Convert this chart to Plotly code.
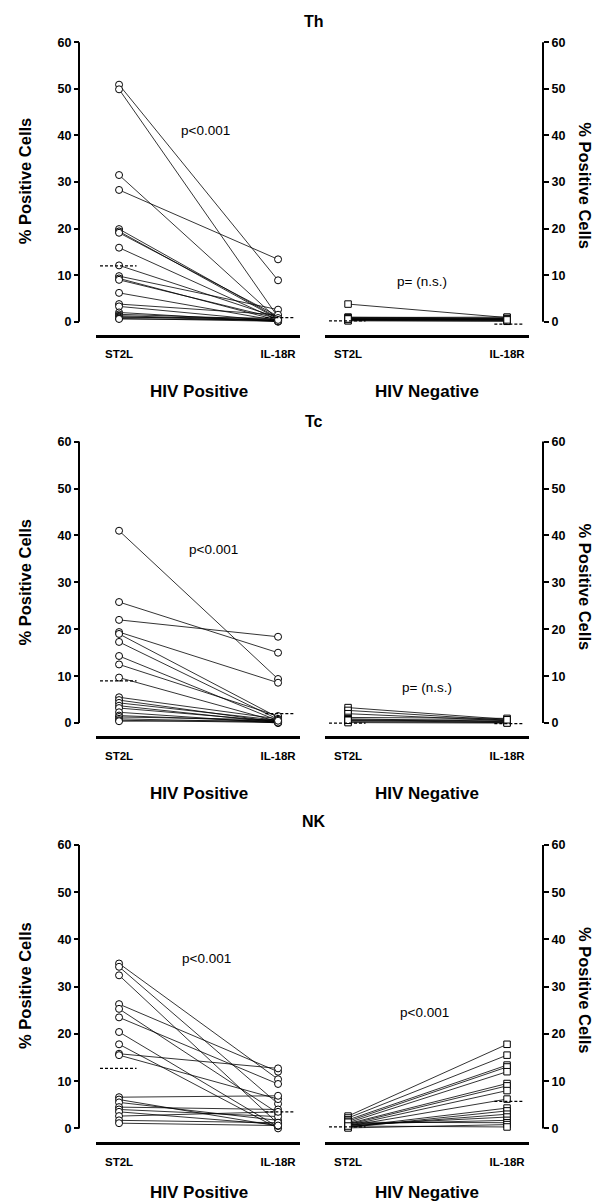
import plotly.graph_objects as go

# ---------------- data ----------------
categories = ["ST2L", "IL-18R"]
panel_titles = ["Th", "Tc", "NK"]
group_titles = ["HIV Positive", "HIV Negative"]
p_labels = [["p<0.001", "p= (n.s.)"], ["p<0.001", "p= (n.s.)"], ["p<0.001", "p<0.001"]]
y_tick_vals = [0, 10, 20, 30, 40, 50, 60]
y_axis_title = "% Positive Cells"

# Th
th_pos_st2l = [50.9, 49.9, 31.5, 28.3, 19.9, 19.4, 19.1, 15.9, 12.1, 9.8, 9.3, 9.0, 6.2, 3.8, 3.3, 2.0, 1.6, 1.3, 1.1, 0.9, 0.7, 0.6]
th_pos_il18r = [8.9, 1.0, 0.5, 13.4, 0.8, 0.6, 1.2, 0.4, 0.9, 2.6, 0.3, 0.7, 0.2, 1.5, 0.1, 0.0, 0.5, 0.3, 0.2, 0.8, 0.1, 0.4]
th_neg_st2l = [3.8, 1.0, 0.9, 0.8, 0.7, 0.6, 0.5, 0.4, 0.3, 0.2, 0.5, 0.6]
th_neg_il18r = [0.9, 0.8, 1.0, 0.6, 0.5, 0.7, 0.4, 0.3, 0.2, 0.1, 0.6, 0.4]
th_pos_mean = [12.0, 0.9]
th_neg_mean = [0.2, -0.5]

# Tc
tc_pos_st2l = [41.0, 25.8, 22.0, 19.4, 19.0, 17.3, 14.3, 12.5, 9.7, 5.5, 4.9, 4.3, 3.7, 3.2, 2.3, 1.6, 1.3, 0.9, 0.6, 0.4]
tc_pos_il18r = [9.4, 15.0, 18.4, 8.6, 1.2, 0.8, 0.5, 1.5, 0.3, 0.9, 0.2, 0.6, 0.1, 0.4, 0.0, 0.3, 0.7, 0.2, 0.1, 0.5]
tc_neg_st2l = [3.3, 2.7, 2.0, 1.2, 0.9, 0.7, 0.5, 0.3, 0.1, 0.6]
tc_neg_il18r = [0.8, 0.6, 0.5, 1.0, 0.4, 0.3, 0.2, 0.1, 0.0, 0.7]
tc_pos_mean = [9.0, 2.0]
tc_neg_mean = [0.0, -0.1]

# NK
nk_pos_st2l = [34.9, 34.2, 32.4, 26.3, 25.3, 23.5, 20.4, 17.8, 15.8, 15.5, 6.6, 6.1, 5.5, 4.5, 4.0, 3.5, 2.6, 1.7, 1.1]
nk_pos_il18r = [10.4, 5.2, 1.0, 12.0, 3.2, 9.4, 0.3, 0.0, 12.7, 6.2, 6.9, 0.5, 1.7, 4.0, 2.5, 0.8, 3.5, 1.2, 0.6]
nk_neg_st2l = [2.6, 2.2, 1.8, 1.5, 1.2, 1.0, 0.8, 0.6, 0.5, 0.3, 0.2, 0.4, 0.7, 0.9, 1.3, 0.1, 0.5]
nk_neg_il18r = [17.8, 15.5, 13.4, 13.0, 12.0, 9.5, 9.0, 8.0, 6.2, 4.3, 3.7, 3.0, 2.4, 1.7, 1.2, 0.8, 0.3]
nk_pos_mean = [12.7, 3.5]
nk_neg_mean = [0.3, 5.7]

panels = [
    [(th_pos_st2l, th_pos_il18r, th_pos_mean), (th_neg_st2l, th_neg_il18r, th_neg_mean)],
    [(tc_pos_st2l, tc_pos_il18r, tc_pos_mean), (tc_neg_st2l, tc_neg_il18r, tc_neg_mean)],
    [(nk_pos_st2l, nk_pos_il18r, nk_pos_mean), (nk_neg_st2l, nk_neg_il18r, nk_neg_mean)],
]

# ---------------- layout geometry (screen pixels) ----------------
OFF = 8                      # page body margin
W, H = 608 - OFF, 1203 - OFF


def fx(px):
    return (px - OFF) / W


def fy(py):
    return 1 - (py - OFF) / H


panel_px = [dict(top=36, zero=318, base=331), dict(top=437, zero=721, base=734), dict(top=842, zero=1128, base=1142)]
x_dom_px = [(96, 300), (325, 529)]
y_axis_px = [79, 543]
x_range = [-0.145, 1.138]
title_y = [17, 418, 820]
group_title_y = [388, 792, 1192]
group_title_x = [199, 427]
ytitle_y = [177, 580, 985]
p_xy = [[(205, 126), (422, 278)], [(213, 547), (427, 685)], [(206, 957), (424, 1012)]]

FONT = "Liberation Sans, Arial, sans-serif"

fig = go.Figure()
layout = dict(
    width=W, height=H, margin=dict(l=0, r=0, t=0, b=0),
    paper_bgcolor="white", plot_bgcolor="white", showlegend=False,
    font=dict(family=FONT, color="black"),
)
annotations = []
shapes = []

for i, panel in enumerate(panels):
    g = panel_px[i]
    ymin = -(g["base"] - g["zero"]) * 60.0 / (g["zero"] - g["top"])
    for j, (st2l, il18r, mean) in enumerate(panel):
        k = 2 * i + j + 1
        xa = "xaxis" if k == 1 else f"xaxis{k}"
        ya = "yaxis" if k == 1 else f"yaxis{k}"
        xr = "x" if k == 1 else f"x{k}"
        yr = "y" if k == 1 else f"y{k}"
        layout[xa] = dict(
            domain=[fx(x_dom_px[j][0]), fx(x_dom_px[j][1])], range=x_range,
            anchor=yr, showline=True, linewidth=2.5, linecolor="black",
            tickvals=[0, 1], ticktext=categories, ticks="outside", ticklen=7,
            tickcolor="rgba(0,0,0,0)", tickfont=dict(size=11.5, weight="bold"),
            showgrid=False, zeroline=False, fixedrange=True,
        )
        layout[ya] = dict(
            domain=[fy(g["base"]), fy(g["top"])], range=[ymin, 60.3],
            anchor="free", position=fx(y_axis_px[j]), side="left" if j == 0 else "right",
            showline=False, ticks="outside", ticklen=5, tickwidth=1.5, tickcolor="black",
            tickvals=y_tick_vals, tickfont=dict(size=12.5, weight="bold"),
            showgrid=False, zeroline=False, fixedrange=True,
        )
        # vertical spine from 0 to 60
        shapes.append(dict(type="line", xref="paper", yref=yr, x0=fx(y_axis_px[j]), x1=fx(y_axis_px[j]),
                           y0=0, y1=60, line=dict(color="black", width=2)))
        # paired lines
        xs, ys = [], []
        for a, b in zip(st2l, il18r):
            xs += [0, 1, None]
            ys += [a, b, None]
        fig.add_trace(go.Scatter(
            x=xs, y=ys, xaxis=xr, yaxis=yr, mode="lines+markers",
            line=dict(color="black", width=0.8),
            marker=dict(symbol="circle" if j == 0 else "square", size=7 if j == 0 else 6.5,
                        color="white", line=dict(color="black", width=1)),
            hoverinfo="skip",
        ))
        # mean dashed lines
        fig.add_trace(go.Scatter(
            x=[-0.12, 0.11, None, 0.92, 1.1], y=[mean[0], mean[0], None, mean[1], mean[1]],
            xaxis=xr, yaxis=yr, mode="lines",
            line=dict(color="black", width=1.2, dash="3px,2px"), hoverinfo="skip",
        ))
        # group title
        annotations.append(dict(xref="paper", yref="paper", x=fx(group_title_x[j]), y=fy(group_title_y[i]),
                                text=group_titles[j], showarrow=False, xanchor="center", yanchor="middle",
                                font=dict(size=17, weight="bold")))
        # p label
        px, py = p_xy[i][j]
        annotations.append(dict(xref="paper", yref="paper", x=fx(px), y=fy(py), text=p_labels[i][j],
                                showarrow=False, xanchor="center", yanchor="middle", font=dict(size=13.5)))
    # panel title
    annotations.append(dict(xref="paper", yref="paper", x=fx(314), y=fy(title_y[i]), text=panel_titles[i],
                            showarrow=False, xanchor="center", yanchor="middle", font=dict(size=16, weight="bold")))
    # y titles
    annotations.append(dict(xref="paper", yref="paper", x=fx(25), y=fy(ytitle_y[i]), text=y_axis_title,
                            textangle=-90, showarrow=False, xanchor="center", yanchor="middle",
                            font=dict(size=16.5, weight="bold")))
    annotations.append(dict(xref="paper", yref="paper", x=fx(585), y=fy(ytitle_y[i] + 4), text=y_axis_title,
                            textangle=90, showarrow=False, xanchor="center", yanchor="middle",
                            font=dict(size=16.5, weight="bold")))

layout["annotations"] = annotations
layout["shapes"] = shapes
fig.update_layout(**layout)
fig.write_html("out.html")
